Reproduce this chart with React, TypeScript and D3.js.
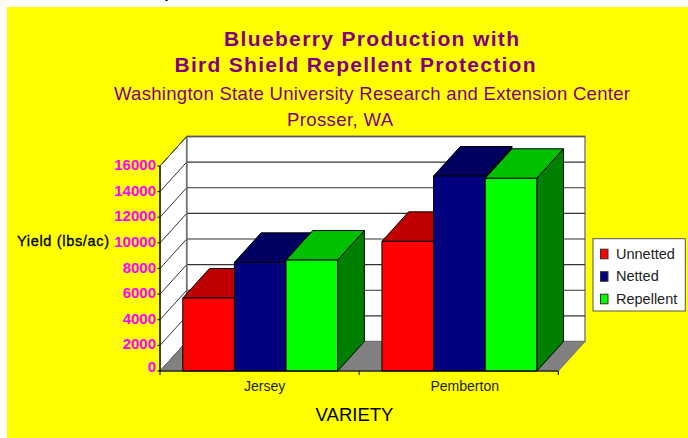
import React from "react";
import * as d3 from "d3";

const categories = ["Jersey", "Pemberton"];
const seriesNames = ["Unnetted", "Netted", "Repellent"];
const unnetted = [5700, 10120];
const netted = [8480, 15220];
const repellent = [8660, 15040];
const yTicks = [0, 2000, 4000, 6000, 8000, 10000, 12000, 14000, 16000];
const fronts = ["#ff0000", "#000080", "#00ff00"];
const tops = ["#c00000", "#000060", "#00c000"];
const sides = ["#800000", "#000050", "#008000"];

const PURPLE = "#800080";
const FONT = "'Liberation Sans', Arial, sans-serif";
const W = 688, H = 438;
const DX = 26.7, DY = 29.5;

export default function App() {
  const y = d3.scaleLinear().domain([0, 16000]).range([371, 166]);
  const x0 = d3.scaleBand<string>().domain(categories).range([160, 558.3]);
  const x1 = d3.scaleBand<string>().domain(seriesNames).range([22.8, x0.bandwidth() - 21.5]);
  const ly = d3.scalePoint<string>().domain(seriesNames).range([254, 299]);
  const values = [unnetted, netted, repellent];
  const pts = (p: number[][]) => p.map((q) => q.join(",")).join(" ");
  const [yb, yt] = [y(0), y(16000)];
  const [xl, xr] = [160, 558.3];

  return (
    <svg width={W} height={H} viewBox={`0 0 ${W} ${H}`} style={{ position: "fixed", left: 0, top: 0, fontFamily: FONT }}>
      <rect width={W} height={H} fill="#fff" />
      <text x={165} y={-2} fontSize={13} fill="#000">y</text>
      <rect x={7} y={7} width={W - 7} height={H - 7} fill="#ffff00" />

      <g fill={PURPLE} textAnchor="start">
        <text x={224} y={46} fontSize={21} fontWeight="bold" textLength={295} lengthAdjust="spacing">Blueberry Production with</text>
        <text x={174.5} y={71.5} fontSize={21} fontWeight="bold" textLength={361} lengthAdjust="spacing">Bird Shield Repellent Protection</text>
        <text x={114} y={100} fontSize={18.5} textLength={516} lengthAdjust="spacing">Washington State University Research and Extension Center</text>
        <text x={287} y={125.5} fontSize={18.5} textLength={106} lengthAdjust="spacing">Prosser, WA</text>
      </g>

      {/* walls */}
      <polygon points={pts([[xl, yb], [xl + DX, yb - DY], [xl + DX, yt - DY], [xl, yt]])} fill="#fff" stroke="#000" strokeWidth={1} />
      <rect x={xl + DX} y={yt - DY} width={xr - xl} height={yb - yt} fill="#fff" stroke="#808080" strokeWidth={1.5} />
      <polygon points={pts([[xl, yb], [xl + DX, yb - DY], [xr + DX, yb - DY], [xr, yb]])} fill="#808080" stroke="#707070" strokeWidth={1} />
      {yTicks.slice(1, -1).map((t) => (
        <g key={t}>
          <line x1={xl} y1={y(t)} x2={xl + DX} y2={y(t) - DY} stroke="#333" strokeWidth={1} />
          <line x1={xl + DX} y1={y(t) - DY} x2={xr + DX} y2={y(t) - DY} stroke="#333" strokeWidth={1.2} />
        </g>
      ))}
      <line x1={xl + DX} y1={yt - DY} x2={xl + DX} y2={yb - DY} stroke="#707070" strokeWidth={1.5} />
      <line x1={xl} y1={yt} x2={xl + DX} y2={yt - DY} stroke="#555" strokeWidth={1} />
      <line x1={xl + DX} y1={yt - DY} x2={xr + DX} y2={yt - DY} stroke="#555" strokeWidth={1.5} />

      {/* bars */}
      {categories.map((c, ci) => (
        <g key={c} stroke="#000" strokeWidth={1} strokeLinejoin="round">
          {seriesNames.map((s, si) => {
            const left = (x0(c) as number) + (x1(s) as number);
            const right = left + x1.bandwidth();
            const top = y(values[si][ci]);
            return (
              <g key={s}>
                <polygon points={pts([[right, top], [right + DX, top - DY], [right + DX, yb - DY], [right, yb]])} fill={sides[si]} />
                <polygon points={pts([[left, top], [left + DX, top - DY], [right + DX, top - DY], [right, top]])} fill={tops[si]} />
                <rect x={left} y={top} width={right - left} height={yb - top} fill={fronts[si]} />
              </g>
            );
          })}
        </g>
      ))}

      {/* axes */}
      <line x1={xl} y1={yb} x2={xr} y2={yb} stroke="#000" strokeWidth={1.2} />
      <line x1={xl} y1={yt} x2={xl} y2={yb} stroke="#000" strokeWidth={1} />
      {yTicks.map((t) => (
        <line key={t} x1={xl - 2.5} y1={y(t)} x2={xl} y2={y(t)} stroke="#000" />
      ))}
      {[xl, x0(categories[1]) as number, xr].map((v, i) => (
        <line key={i} x1={v} y1={yb} x2={v} y2={yb + 4} stroke="#000" />
      ))}
      {yTicks.map((t) => (
        <text key={t} x={156} y={Math.min(y(t) - 1.5, 366) + 5.5} textAnchor="end" fontSize={15} fontWeight="bold" fill="#ff00ff" letterSpacing={0}>{t}</text>
      ))}
      <text x={17} y={246} fontSize={14.5} fill="#000" stroke="#000" strokeWidth={0.35} textLength={92} lengthAdjust="spacing">Yield (lbs/ac)</text>
      {categories.map((c) => (
        <text key={c} x={(x0(c) as number) + x0.bandwidth() / 2 + (c === "Jersey" ? 5 : 6)} y={391} textAnchor="middle" fontSize={14} fill="#222">{c}</text>
      ))}
      <text x={354.5} y={421} textAnchor="middle" fontSize={18.5} fill="#000">VARIETY</text>

      {/* legend */}
      <rect x={593} y={238.7} width={92.3} height={72.3} fill="#fff" stroke="#555" strokeWidth={1} />
      {seriesNames.map((s, i) => (
        <g key={s}>
          <rect x={600.5} y={(ly(s) as number) - 4.8} width={7.5} height={9.6} fill={fronts[i]} stroke="#333" />
          <text x={616} y={(ly(s) as number) + 4.5} fontSize={14.5} fill="#222">{s}</text>
        </g>
      ))}
    </svg>
  );
}
